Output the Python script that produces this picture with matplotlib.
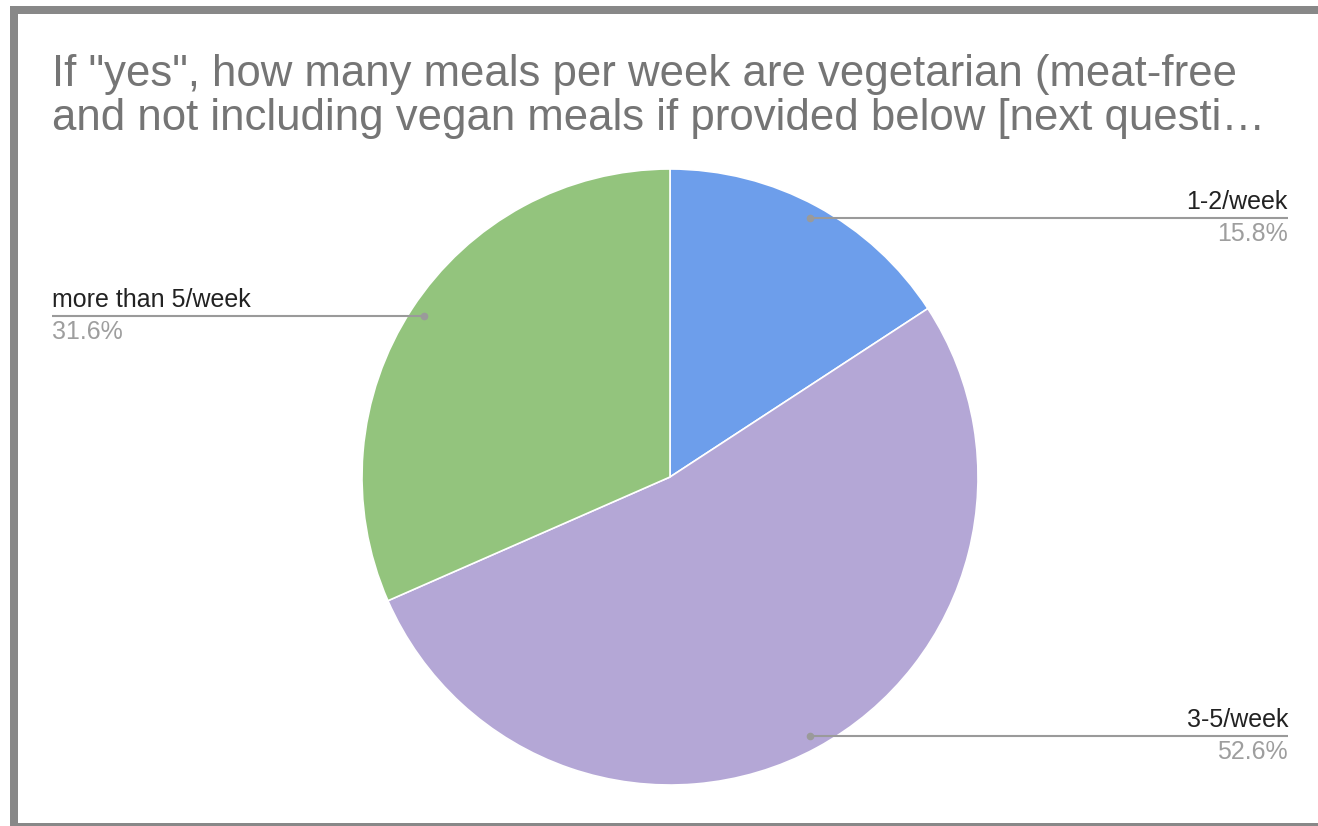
import numpy as np
import matplotlib.pyplot as plt
from matplotlib.patches import Rectangle

# survey answers (counts of respondents)
categories = ["1-2/week", "3-5/week", "more than 5/week"]
counts = [3, 10, 6]
colors = ["#6d9eeb", "#b4a7d6", "#93c47d"]
title_lines = ['If "yes", how many meals per week are vegetarian (meat-free',
               'and not including vegan meals if provided below [next questi\u2026']

W, H = 1318, 826
dpi = 100
plt.rcParams['font.family'] = ['Liberation Sans', 'DejaVu Sans']

fig = plt.figure(figsize=(W / dpi, H / dpi), dpi=dpi, facecolor="white")
ax = fig.add_axes([0, 0, 1, 1])

cx, cy, R = 670, H - 477, 308
wedges, _ = ax.pie(counts, colors=colors, startangle=90, counterclock=False,
                   center=(cx, cy), radius=R, frame=True,
                   wedgeprops=dict(edgecolor="white", linewidth=1.2))
ax.set_xlim(0, W)
ax.set_ylim(0, H)
ax.set_aspect("equal")
ax.axis("off")

# frame (left, top, bottom) like the screenshot
frame = "#888888"
ax.add_patch(Rectangle((10, 0), 8, H - 6, color=frame, lw=0))
ax.add_patch(Rectangle((10, H - 14), W - 10, 8, color=frame, lw=0))
ax.add_patch(Rectangle((10, 0), W - 10, 3.5, color=frame, lw=0))

total = sum(counts)
for w, name, c in zip(wedges, categories, counts):
    mid = np.deg2rad((w.theta1 + w.theta2) / 2)
    px = cx + 0.955 * R * np.cos(mid)
    py = cy + 0.955 * R * np.sin(mid)
    if np.cos(mid) >= 0:
        ex, ha = 1288, "right"
    else:
        ex, ha = 52, "left"
    ax.plot([px, ex], [py, py], color="#9a9a9a", lw=1.5, solid_capstyle="butt")
    ax.plot(px, py, "o", color="#9a9a9a", ms=5.5, mec="none")
    ax.text(ex, py + 9, name, ha=ha, va="baseline", fontsize=18, color="#222222")
    ax.text(ex, py - 23, "{:.1f}%".format(100.0 * c / total), ha=ha,
            va="baseline", fontsize=18, color="#9e9e9e")

ax.text(52, H - 86, title_lines[0], ha="left", va="baseline",
        fontsize=31.5, color="#757575")
ax.text(52, H - 130, title_lines[1], ha="left", va="baseline",
        fontsize=31.5, color="#757575")

fig.savefig("out.png", dpi=dpi, facecolor="white")
